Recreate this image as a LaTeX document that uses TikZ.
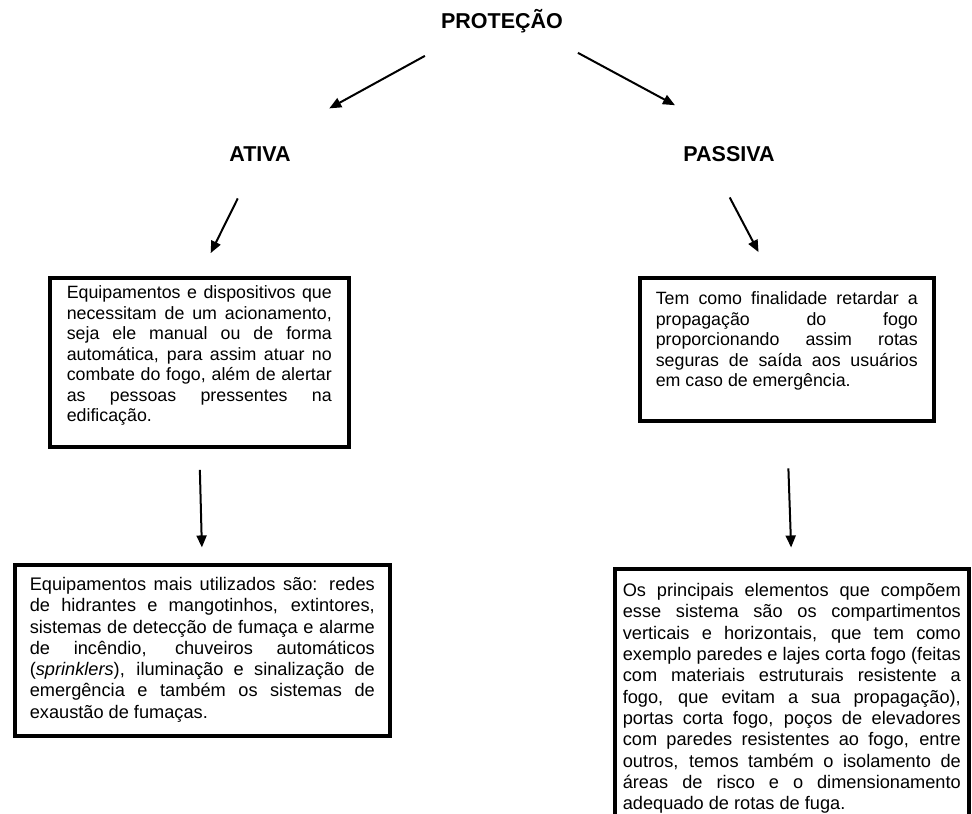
\documentclass[tikz,border=0pt]{standalone}
\usepackage{fontspec}
\setmainfont{Liberation Sans}
\usepackage{tikz}
\usetikzlibrary{calc}
\usetikzlibrary{arrows.meta}
\tikzset{>=Triangle}
\tikzstyle{titulo} = [draw=none, inner sep = 0, anchor = base, font = \bfseries\fontsize{21.5}{24}\selectfont]
\tikzstyle{caixa} = [draw, line width = 3.6pt, anchor = north west, align = justify]
\tikzstyle{cima} = [caixa, font = \fontsize{17.8}{20.5}\selectfont]
\tikzstyle{baixo} = [caixa, font = \fontsize{18.2}{21.3}\selectfont]
\tikzstyle{seta} = [-{Triangle[length = 12pt, width = 10pt]}, line width = 2pt]
\tolerance=10000
\hbadness=10000

\begin{document}
\begin{tikzpicture}[x = 1pt, y = -1pt]
\path [use as bounding box, clip] (0, 0) rectangle (972, 814);
\node [titulo] (P) at (502, 28) {PROTEÇÃO};
\node [titulo] (A) at (260, 161) {ATIVA};
\node [titulo] (S) at (729, 161) {PASSIVA};
\node [cima, text width = 265pt, inner xsep = 17pt, inner ysep = 8pt] (A1) at (48, 276) {Equipamentos e dispositivos que\linebreak necessitam de um acionamento,\linebreak seja ele manual ou de forma\linebreak automática, para assim atuar no\linebreak combate do fogo, além de alertar\linebreak as pessoas pressentes na\linebreak edificação.\rule[-17pt]{0pt}{17pt}};
\node [cima, text width = 262pt, inner xsep = 16pt, inner ysep = 14pt] (S1) at (638, 276) {Tem como finalidade retardar a\linebreak propagação do fogo\linebreak proporcionando assim rotas\linebreak seguras de saída aos usuários\linebreak em caso de emergência.\rule[-20pt]{0pt}{20pt}};
\node [baixo, text width = 345pt, inner xsep = 15pt, inner ysep = 12.5pt] (A2) at (13, 563) {Equipamentos mais utilizados são: redes\linebreak de hidrantes e mangotinhos, extintores,\linebreak sistemas de detecção de fumaça e alarme\linebreak de incêndio, chuveiros automáticos\linebreak (\textit{sprinklers}), iluminação e sinalização de\linebreak emergência e também os sistemas de\linebreak exaustão de fumaças.\rule[-5.5pt]{0pt}{5.5pt}};
\node [baixo, text width = 338pt, inner xsep = 8pt, inner ysep = 14.7pt] (S2) at (613, 567) {Os principais elementos que compõem\linebreak esse sistema são os compartimentos\linebreak verticais e horizontais, que tem como\linebreak exemplo paredes e lajes corta fogo (feitas\linebreak com materiais estruturais resistente a\linebreak fogo, que evitam a sua propagação),\linebreak portas corta fogo, poços de elevadores\linebreak com paredes resistentes ao fogo, entre\linebreak outros, temos também o isolamento de\linebreak áreas de risco e o dimensionamento\linebreak adequado de rotas de fuga.\rule[-20pt]{0pt}{20pt}};
\draw [seta] ($(P)!.265!(A) + (-13, 0)$) to ($(P)!.66!(A) + (-13, 0)$);
\draw [seta] ($(P)!.242!(S) + (21, 0)$) to ($(P)!.636!(S) + (28.6, 0)$);
\draw [seta] ($(A)!.366!(A1.north)$) to ($(A)!.813!(A1.north)$);
\draw [seta] ($(S)!.358!(S1.north) + (-20, 0)$) to ($(S)!.805!(S1.north) + (-17, 0)$);
\draw [seta] ($(A1.south)!.186!(A2.north)$) to ($(A1.south)!.864!(A2.north)$);
\draw [seta] ($(S1.south)!.318!(S2.north)$) to ($(S1.south)!.865!(S2.north)$);
\end{tikzpicture}
\end{document}
